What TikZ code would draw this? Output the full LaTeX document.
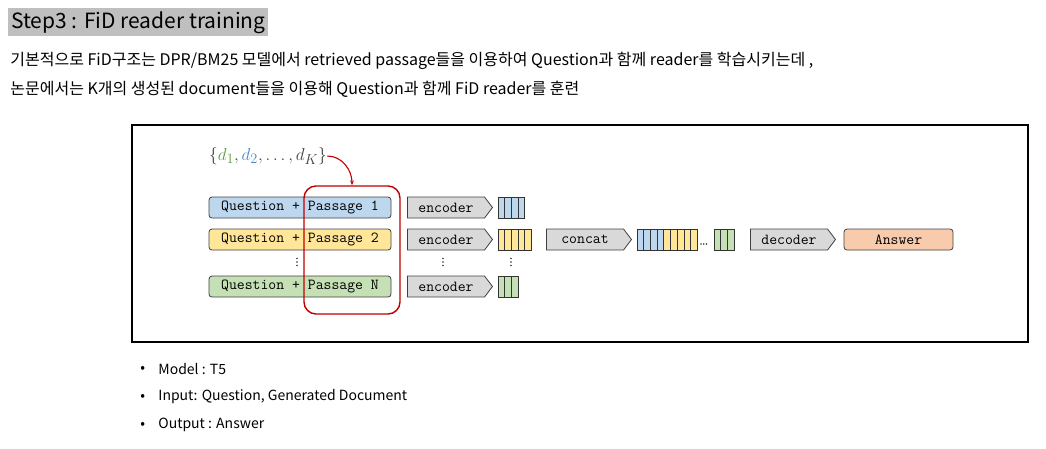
\documentclass[tikz,border=0pt]{standalone}
\usepackage{fontspec}
\setmainfont{Noto Sans CJK KR}
\usetikzlibrary{shapes.symbols,positioning,arrows.meta}
\definecolor{qblue}{RGB}{189,215,238}
\definecolor{qyellow}{RGB}{255,230,153}
\definecolor{qgreen}{RGB}{197,224,180}
\definecolor{qorange}{RGB}{248,203,173}
\definecolor{dgreen}{RGB}{96,150,64}
\definecolor{dblue}{RGB}{74,134,197}
\definecolor{fidred}{RGB}{192,0,0}
\begin{document}
\begin{tikzpicture}[x=1pt, y=-1pt, line width=0.8pt,
  qbox/.style={draw=black!75, rounded corners=3pt, minimum width=182pt, minimum height=21pt,
    inner sep=0pt, font=\ttfamily\fontsize{15.3}{16}\selectfont},
  enc/.style={draw=black!75, fill=black!15, signal, signal to=east, signal pointer angle=106,
    minimum width=85pt, minimum height=21pt, inner sep=0pt, font=\ttfamily\fontsize{15.3}{16}\selectfont},
  body/.style={anchor=west, inner sep=0pt, font=\fontsize{16}{18}\selectfont},
  item/.style={anchor=west, inner sep=0pt, font=\fontsize{14}{16}\selectfont},
]
  \useasboundingbox (0,0) rectangle (1046,448);
  % 제목과 설명
  \node[anchor=north west, fill=black!25, minimum height=28pt, inner xsep=3pt, inner ysep=0pt,
    font=\fontsize{21}{23}\selectfont] (title) at (8,8) {Step3 : FiD reader training};
  \node[body] (line1) at (10,61) {기본적으로 FiD구조는 DPR/BM25 모델에서 retrieved passage들을 이용하여 Question과 함께 reader를 학습시키는데 ,};
  \node[body] (line2) at (10,89) {논문에서는 K개의 생성된 document들을 이용해 Question과 함께 FiD reader를 훈련};
  % 그림 틀
  \draw[line width=2pt] (132,125) rectangle (1028,342);
  % 문서 집합
  \node[inner sep=0pt, text=black!75, font=\fontsize{19}{20}\selectfont] (docs) at (268,156)
    {$\{{\color{dgreen}d_1}, {\color{dblue}d_2}, \dots, d_K\}$};
  % 입력 — Question + Passage
  \node[qbox, fill=qblue] (q1) at (300,207.5) {Question + Passage 1};
  \node[qbox, fill=qyellow] (q2) at (300,239.5) {Question + Passage 2};
  \node[qbox, fill=qgreen] (qn) at (300,286.5) {Question + Passage N};
  % 인코더
  \node[enc] (e1) at (446,207.5) {encoder};
  \node[enc] (e2) at (446,239.5) {encoder};
  \node[enc] (en) at (446,286.5) {encoder};
  \node[enc] (cat) at (585,239.5) {concat};
  \node[enc] (dec) at (789,239.5) {decoder};
  \node[qbox, fill=qorange, minimum width=109pt] (ans) at (898.5,239.5) {Answer};
  % 토큰 블록
  \foreach \x/\y/\n/\c in {498/197/4/qblue, 498/229/5/qyellow, 498/276/3/qgreen,
      637/229/4/qblue, 663.8/229/5/qyellow, 714/229/3/qgreen}{
    \foreach \i in {1,...,\n}{
      \draw[draw=black!80, fill=\c] (\x+6.7*\i-6.7,\y) rectangle (\x+6.7*\i,\y+21);
    }
  }
  % 생략 점
  \foreach \x in {297,443,511}{
    \foreach \y in {258.5,262,265.5}{
      \fill[black!80] (\x,\y) circle (0.9);
    }
  }
  \foreach \x in {701,703.7,706.4}{
    \fill[black!80] (\x,244) circle (0.9);
  }
  % 빨간 박스와 화살표
  \node[draw=fidred, line width=1.4pt, rounded corners=12pt, minimum width=96pt, minimum height=128pt,
    inner sep=0pt] (pass) at (352,250) {};
  \draw[fidred, line width=1.1pt, -{Stealth[length=5pt]}] (docs.east) to[out=0, in=90] (pass.north);
  % 요약
  \foreach \t/\y [count=\k] in {Model : T5/369, {Input: Question, Generated Document}/397, Output : Answer/425}{
    \node[item] (dot\k) at (140,\y) {•};
    \node[item] (item\k) at (158,\y) {\t};
  }
\end{tikzpicture}
\end{document}
